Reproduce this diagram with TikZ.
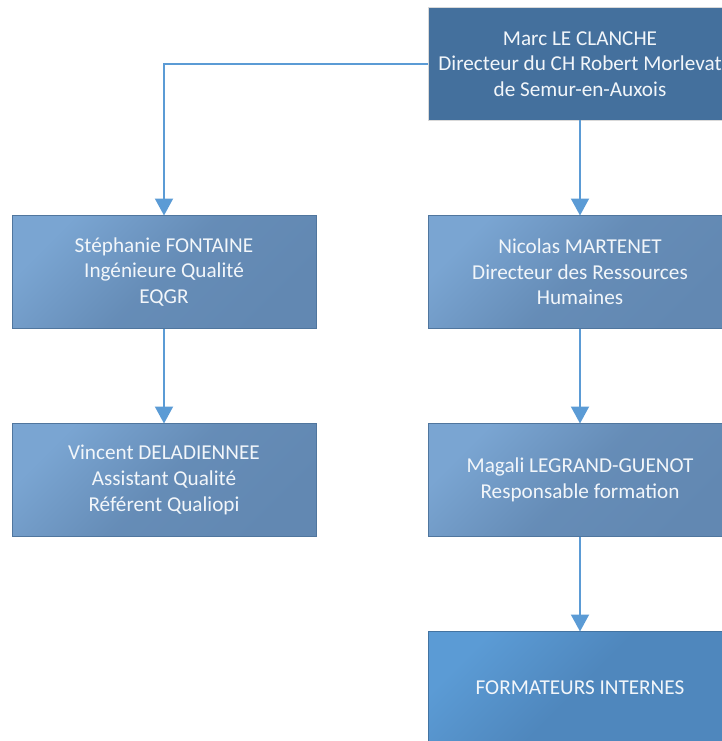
\documentclass[tikz,border=0pt]{standalone}
\usepackage{fontspec}
\setmainfont{Carlito}
\usepackage{xcolor}
\usepackage{tikz}
\usetikzlibrary{arrows.meta}

\definecolor{bleuhaut}{HTML}{44709D}
\definecolor{bleuclair}{HTML}{7AA5D2}
\definecolor{bleumoyen}{HTML}{6288B2}
\definecolor{bleuvif}{HTML}{5B9BD5}
\definecolor{bleufonce}{HTML}{4F87BD}
\definecolor{bordure}{HTML}{50769E}
\definecolor{texte}{HTML}{F2F6FA}

\begin{document}
\begin{tikzpicture}[x=1pt,y=-1pt,
		boite/.style={rectangle, minimum width=304pt, minimum height=113pt, inner sep=0pt, outer sep=0pt,
			align=center, text=texte, font=\fontsize{21.2}{25.6}\selectfont, draw=bordure, line width=1pt},
		degrade/.style={boite, top color=bleuclair, bottom color=bleumoyen, shading angle=45, middle color=bleumoyen!85!bleuclair},
		fleche/.style={draw=bleuvif, line width=2pt, -{Triangle[width=18pt,length=17pt]}}]
		\useasboundingbox (0,0) rectangle (722,741);
		\clip (0,0) rectangle (722,741);
		
		\node[boite, fill=bleuhaut, draw=gray!30] (marc) at (580,64) {Marc LE CLANCHE\\Directeur du CH Robert Morlevat\\de Semur-en-Auxois};
		\node[degrade] (stephanie) at (164,272) {St\'ephanie FONTAINE\\Ing\'enieure Qualit\'e\\EQGR};
		\node[degrade] (nicolas) at (580,272) {Nicolas MARTENET\\Directeur des Ressources\\Humaines};
		\node[degrade] (vincent) at (164,480) {Vincent DELADIENNEE\\Assistant Qualit\'e\\R\'ef\'erent Qualiopi};
		\node[degrade] (magali) at (580,480) {Magali LEGRAND-GUENOT\\Responsable formation};
		\node[boite, top color=bleuvif, bottom color=bleufonce, middle color=bleufonce, shading angle=45, draw=bleufonce!85!black] (formateurs) at (580,688) {FORMATEURS INTERNES};
		
		\draw [fleche] (marc.west) -| (stephanie.north);
		\draw [fleche] (marc.south) -- (nicolas.north);
		\draw [fleche] (stephanie.south) -- (vincent.north);
		\draw [fleche] (nicolas.south) -- (magali.north);
		\draw [fleche] (magali.south) -- (formateurs.north);
	\end{tikzpicture}
\end{document}
